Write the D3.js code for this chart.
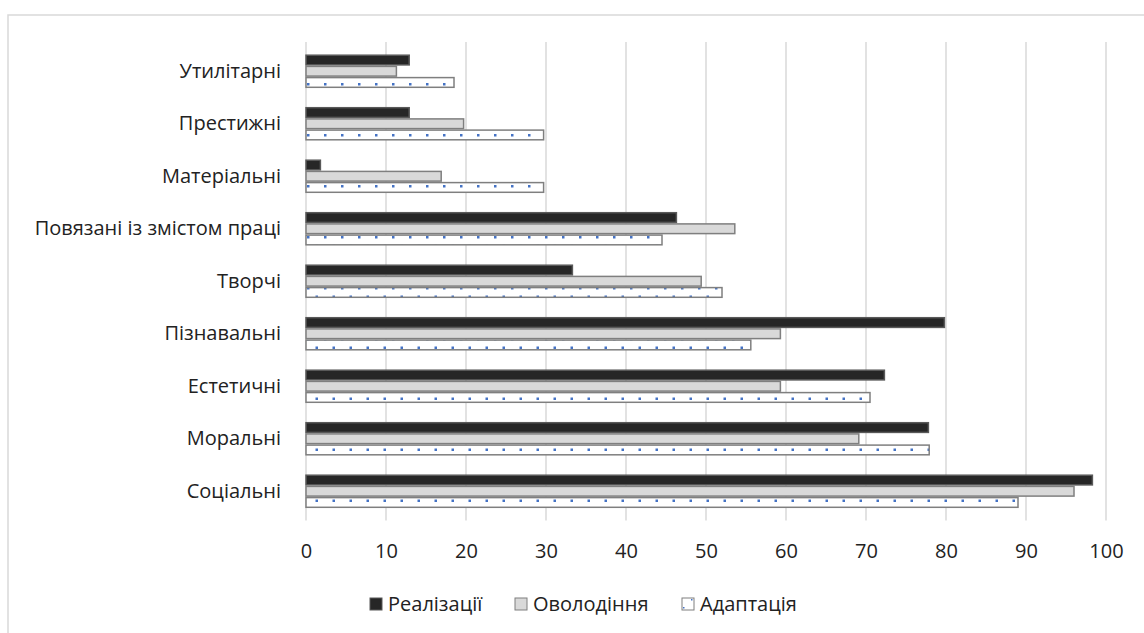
<!DOCTYPE html>
<html>
<head>
<meta charset="utf-8">
<script src="https://cdn.jsdelivr.net/npm/d3@7"></script>
<style>
  body { margin: 0; background: #fff; }
  text { font-family: "Open Sans", "Noto Sans", sans-serif; fill: #222; }
</style>
</head>
<body>
<div id="chart-area"></div>
<script>
/*  Values, top to bottom as in the picture  */
const categories = ["Утилітарні", "Престижні", "Матеріальні", "Повязані із змістом праці",
                    "Творчі", "Пізнавальні", "Естетичні", "Моральні", "Соціальні"];
const seriesNames = ["Реалізації", "Оволодіння", "Адаптація"];
const realizatsii = [12.9, 12.9, 1.8, 46.3, 33.3, 79.8, 72.3, 77.8, 98.3];
const ovolodinnia = [11.3, 19.7, 16.9, 53.6, 49.4, 59.3, 59.3, 69.1, 96.0];
const adaptatsiia = [18.5, 29.7, 29.7, 44.5, 52.0, 55.6, 70.5, 77.9, 89.0];
const xTicks = [0, 10, 20, 30, 40, 50, 60, 70, 80, 90, 100];

const seriesValues = [realizatsii, ovolodinnia, adaptatsiia];

/* dimensions */
const W = 1144, H = 633;
const margin = { top: 45, right: 38, bottom: 115.5, left: 306 };
const width = W - margin.left - margin.right,
      height = H - margin.top - margin.bottom;
const fontSize = 20;

const svg = d3.select("#chart-area").append("svg")
    .attr("width", W)
    .attr("height", H);

// dotted fill for the white series
const defs = svg.append("defs");
const pat = defs.append("pattern")
    .attr("id", "dots")
    .attr("patternUnits", "userSpaceOnUse")
    .attr("width", 17).attr("height", 17);
pat.append("rect").attr("width", 17).attr("height", 17).attr("fill", "#fff");
pat.append("rect").attr("x", 1).attr("y", 4).attr("width", 2.5).attr("height", 2.5).attr("fill", "#4472c4");
pat.append("rect").attr("x", 9.5).attr("y", 12.5).attr("width", 2.5).attr("height", 2.5).attr("fill", "#4472c4");

// outer frame (cut by the window on the right and bottom)
svg.append("rect")
    .attr("x", 8).attr("y", 15)
    .attr("width", 1160).attr("height", 640)
    .attr("fill", "none")
    .attr("stroke", "#d9d9d9")
    .attr("stroke-width", 1.5);

const g = svg.append("g")
    .attr("transform", "translate(" + margin.left + "," + margin.top + ")");

/* scales */
const x = d3.scaleLinear().domain([0, 100]).range([0, width]);
const y = d3.scaleBand().domain(categories).range([0, height])
    .paddingInner(0.36).paddingOuter(0.18);
const ySub = d3.scaleBand().domain(seriesNames).range([0, y.bandwidth()]);

// gridlines
g.append("g").selectAll("line")
    .data(xTicks)
    .enter().append("line")
        .attr("x1", d => x(d)).attr("x2", d => x(d))
        .attr("y1", -3).attr("y2", height + 3)
        .attr("stroke", "#d9d9d9")
        .attr("stroke-width", 1.5);

// x axis labels
const xAxis = d3.axisBottom(x).tickValues(xTicks).tickSize(0).tickPadding(0);
const xAxisGroup = g.append("g")
    .attr("transform", "translate(0," + (height + 26) + ")")
    .call(xAxis);
xAxisGroup.select(".domain").remove();
xAxisGroup.selectAll("text")
    .attr("font-size", fontSize)
    .attr("font-family", null)
    .attr("fill", "#222");

// y axis labels
const yAxis = d3.axisLeft(y).tickSize(0).tickPadding(25);
const yAxisGroup = g.append("g").call(yAxis);
yAxisGroup.select(".domain").remove();
yAxisGroup.selectAll("text")
    .attr("font-size", fontSize)
    .attr("font-family", null)
    .attr("fill", "#222");

/* bars */
const styles = [
    { fill: "#262626", stroke: "#595959" },
    { fill: "#d9d9d9", stroke: "#7f7f7f" },
    { fill: "url(#dots)", stroke: "#7f7f7f" }
];

seriesNames.forEach((s, i) => {
    g.append("g").selectAll("rect")
        .data(categories.map((c, j) => ({ cat: c, value: seriesValues[i][j] })))
        .enter().append("rect")
            .attr("x", x(0))
            .attr("y", d => y(d.cat) + ySub(s) + 0.75)
            .attr("width", d => x(d.value) - x(0))
            .attr("height", ySub.bandwidth() - 1.5)
            .attr("fill", styles[i].fill)
            .attr("stroke", styles[i].stroke)
            .attr("stroke-width", 1.5);
});

/* legend */
const legendX = [370, 515, 682];
const legend = svg.append("g").attr("transform", "translate(0,604)");
seriesNames.forEach((s, i) => {
    legend.append("rect")
        .attr("x", legendX[i]).attr("y", -6)
        .attr("width", 12).attr("height", 12)
        .attr("fill", i === 2 ? "#fff" : styles[i].fill)
        .attr("stroke", styles[i].stroke)
        .attr("stroke-width", 1);
    if (i === 2) {
        legend.append("rect").attr("x", legendX[i] + 1).attr("y", 3)
            .attr("width", 1.5).attr("height", 1.5).attr("fill", "#4472c4");
        legend.append("rect").attr("x", legendX[i] + 9).attr("y", -5)
            .attr("width", 1.5).attr("height", 1.5).attr("fill", "#4472c4");
    }
    legend.append("text")
        .attr("x", legendX[i] + 18).attr("y", 0)
        .attr("dy", "0.35em")
        .attr("font-size", fontSize)
        .text(s);
});
</script>
</body>
</html>
